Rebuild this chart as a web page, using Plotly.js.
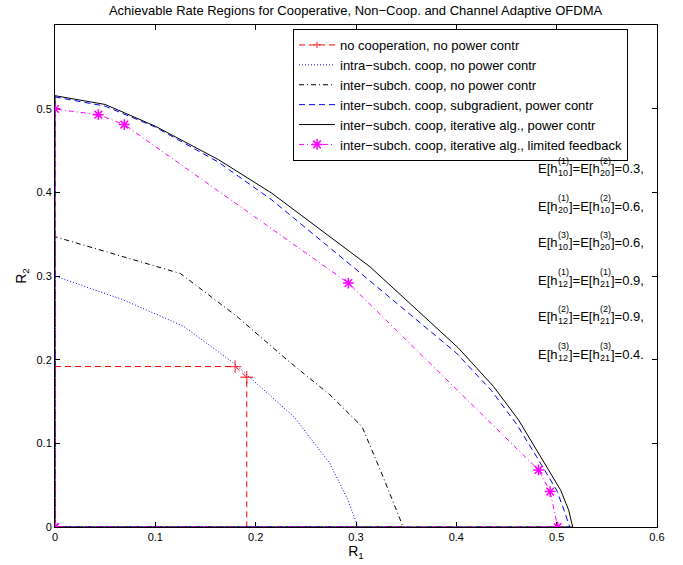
<!DOCTYPE html>
<html><head><meta charset="utf-8">
<script src="https://cdn.plot.ly/plotly-3.0.1.min.js"></script>
<style>body{margin:0;background:#fff}#chart{width:683px;height:565px}</style>
</head><body><div id="chart"></div>
<script>
// ---- data ----
const seriesNames = [
  'no cooperation, no power contr',
  'intra\u2212subch. coop, no power contr',
  'inter\u2212subch. coop, no power contr',
  'inter\u2212subch. coop, subgradient, power contr',
  'inter\u2212subch. coop, iterative alg., power contr',
  'inter\u2212subch. coop, iterative alg., limited feedback'
];
const noCoopR1 = [0, 0.1795, 0.1911, 0.1911];
const noCoopR2 = [0.1918, 0.1918, 0.179, 0];
const intraR1 = [0, 0, 0.068, 0.128, 0.178, 0.238, 0.274, 0.292, 0.302, 0];
const intraR2 = [0, 0.300, 0.2715, 0.240, 0.196, 0.132, 0.076, 0.032, 0, 0];
const interR1 = [0, 0, 0.068, 0.125, 0.181, 0.231, 0.274, 0.306, 0.327, 0.347, 0];
const interR2 = [0, 0.347, 0.323, 0.303, 0.252, 0.200, 0.158, 0.120, 0.060, 0, 0];
const subgrR1 = [0, 0, 0.05, 0.10, 0.163, 0.216, 0.310, 0.400, 0.435, 0.460, 0.480, 0.500, 0.508, 0.513, 0];
const subgrR2 = [0, 0.514, 0.503, 0.478, 0.436, 0.391, 0.298, 0.208, 0.163, 0.123, 0.084, 0.044, 0.018, 0, 0];
const iterR1 = [0, 0, 0.05, 0.10, 0.163, 0.216, 0.314, 0.402, 0.437, 0.462, 0.480, 0.504, 0.512, 0.516, 0];
const iterR2 = [0, 0.5155, 0.505, 0.479, 0.439, 0.399, 0.311, 0.214, 0.168, 0.128, 0.092, 0.044, 0.020, 0, 0];
const limFbR1 = [0, 0, 0.0432, 0.0691, 0.2924, 0.4819, 0.4935, 0.501, 0];
const limFbR2 = [0, 0.4996, 0.4928, 0.481, 0.2915, 0.0682, 0.0423, 0, 0];

const xTicks = [0, 0.1, 0.2, 0.3, 0.4, 0.5, 0.6];
const xTickText = ['0', '0.1', '0.2', '0.3', '0.4', '0.5', '0.6'];
const yTicks = [0, 0.1, 0.2, 0.3, 0.4, 0.5];
const yTickText = ['0', '0.1', '0.2', '0.3', '0.4', '0.5'];

const titleText = 'Achievable Rate Regions for Cooperative, Non\u2212Coop. and Channel Adaptive OFDMA';

const rowSupA = ['(1)', '(1)', '(3)', '(1)', '(2)', '(3)'];
const rowSubA = ['10', '20', '10', '12', '12', '12'];
const rowSupB = ['(2)', '(2)', '(3)', '(1)', '(2)', '(3)'];
const rowSubB = ['20', '10', '20', '21', '21', '21'];
const rowVal = ['0.3,', '0.6,', '0.6,', '0.9,', '0.9,', '0.4.'];

// ---- layout helpers ----
const PL = 55, PT = 25, PW = 602, PH = 502, W = 683, H = 565;
const FONT = '"Liberation Sans", Arial, Helvetica, sans-serif';
function px2x(px) { return (px - PL) / PW; }
function py2y(py) { return (PT + PH - py) / PH; }
const ctx = document.createElement('canvas').getContext('2d');
function tw(s, sz) { ctx.font = sz + 'px "Liberation Sans"'; return ctx.measureText(s).width; }

const annotations = [];
function addText(t, px, py, sz) {
  annotations.push({text: t, xref: 'paper', yref: 'paper', x: px2x(px), y: py2y(py),
    xanchor: 'left', yanchor: 'middle', showarrow: false, borderpad: 0, borderwidth: 0,
    font: {size: sz, color: '#000', family: FONT}});
}
const MAIN = 13, SMALL = 9;
for (let i = 0; i < rowVal.length; i++) {
  let x = 538;
  const c = 169 + 37 * i;
  addText('E[h', x, c, MAIN); x += tw('E[h', MAIN);
  addText(rowSupA[i], x, c - 8, SMALL); addText(rowSubA[i], x, c + 4, SMALL);
  x += Math.max(tw(rowSupA[i], SMALL), tw(rowSubA[i], SMALL)) + 0.5;
  addText(']=E[h', x, c, MAIN); x += tw(']=E[h', MAIN);
  addText(rowSupB[i], x, c - 8, SMALL); addText(rowSubB[i], x, c + 4, SMALL);
  x += Math.max(tw(rowSupB[i], SMALL), tw(rowSubB[i], SMALL)) + 0.5;
  addText(']=' + rowVal[i], x, c, MAIN);
}

const traces = [
  {x: noCoopR1, y: noCoopR2, name: seriesNames[0], mode: 'lines+markers',
   line: {color: '#ff0000', width: 1, dash: '6px,4px'},
   marker: {symbol: 'cross-thin-open', size: [0, 9, 9, 0], color: '#ff0000', line: {color: '#ff0000', width: 1.3}}},
  {x: intraR1, y: intraR2, name: seriesNames[1], mode: 'lines',
   line: {color: '#0000ff', width: 1, dash: '1px,2px'}},
  {x: interR1, y: interR2, name: seriesNames[2], mode: 'lines',
   line: {color: '#000000', width: 1, dash: '5px,3px,1px,3px'}},
  {x: subgrR1, y: subgrR2, name: seriesNames[3], mode: 'lines',
   line: {color: '#0000ff', width: 1, dash: '6px,4px'}},
  {x: iterR1, y: iterR2, name: seriesNames[4], mode: 'lines',
   line: {color: '#000000', width: 1}},
  {x: limFbR1, y: limFbR2, name: seriesNames[5], mode: 'lines+markers',
   line: {color: '#ff00ff', width: 1, dash: '5px,3px,1px,3px'},
   marker: {symbol: 'asterisk-open', size: 9, color: '#ff00ff', line: {color: '#ff00ff', width: 1.5}}}
];

const axisCommon = {
  showgrid: false, zeroline: false, showline: true, linecolor: '#000', linewidth: 1,
  mirror: 'ticks', ticks: 'inside', ticklen: 5, tickcolor: '#000', tickwidth: 1,
  tickfont: {size: 11, color: '#000', family: FONT}, layer: 'below traces', fixedrange: true
};

const layout = {
  width: W, height: H,
  margin: {l: PL, r: W - PL - PW, t: PT, b: H - PT - PH, pad: 0},
  paper_bgcolor: '#fff', plot_bgcolor: '#fff',
  font: {family: FONT, color: '#000'},
  title: {text: titleText, font: {size: 13, color: '#000', family: FONT},
          x: 341 / W, xanchor: 'center', xref: 'paper', y: 1 - 10 / H, yanchor: 'middle'},
  xaxis: Object.assign({}, axisCommon, {range: [0, 0.6], tickvals: xTicks, ticktext: xTickText,
          title: {text: 'R<sub>1</sub>', font: {size: 14, color: '#000', family: FONT}, standoff: 2}}),
  yaxis: Object.assign({}, axisCommon, {range: [0, 0.6], tickvals: yTicks, ticktext: yTickText,
          title: {text: 'R<sub>2</sub>', font: {size: 14, color: '#000', family: FONT}, standoff: 6}}),
  showlegend: true,
  legend: {x: px2x(293), y: py2y(29), xanchor: 'left', yanchor: 'top', bgcolor: '#fff',
           bordercolor: '#000', borderwidth: 1, font: {size: 13, color: '#000', family: FONT},
           itemwidth: 36, tracegroupgap: 0},
  annotations: annotations
};

Plotly.newPlot('chart', traces, layout, {displayModeBar: false, staticPlot: true});
</script>
</body></html>
